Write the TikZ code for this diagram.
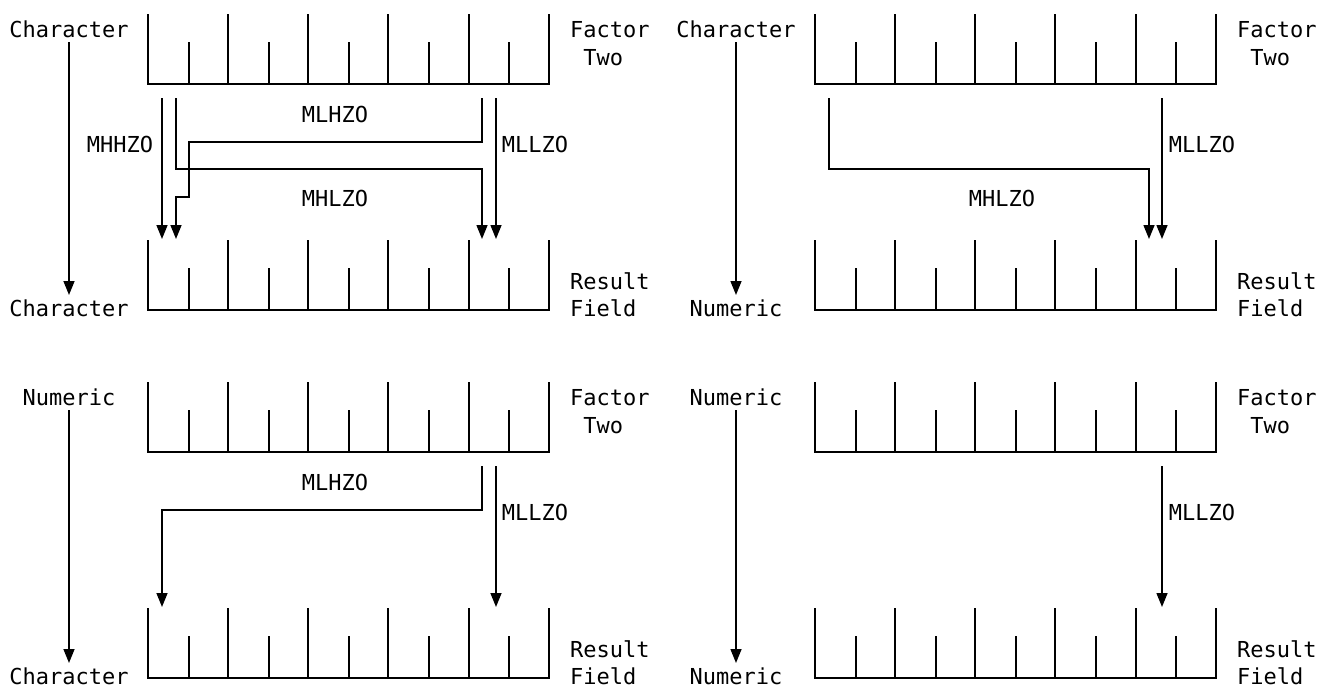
\documentclass[tikz,border=0pt]{standalone}
\usepackage{fontspec}
\setmonofont{DejaVu Sans Mono}
\usetikzlibrary{arrows.meta}
\begin{document}
\begin{tikzpicture}[x=1pt,y=-1pt,
  lbl/.style={font=\ttfamily\fontsize{22}{26}\selectfont, inner sep=0pt, anchor=base},
  lblw/.style={lbl, anchor=base west},
  wire/.style={line width=1.5pt, line join=miter, line cap=butt},
  flow/.style={wire, -{Triangle[length=14pt,width=11pt]}},
  pics/ruler/.style={code={
    \draw[wire] (0,0) -- (0,70) -- (401,70) -- (401,0);
    \foreach \t in {80,160,240,321} \draw[wire] (\t,0) -- (\t,70);
    \foreach \t in {41,121,201,281,361} \draw[wire] (\t,28) -- (\t,70);
  }}]
\useasboundingbox (0,0) rectangle (1318,688);

% ---------- Character -> Character ----------
\begin{scope}
  \pic at (148,14) {ruler};
  \pic at (148,240) {ruler};
  \node[lbl]  (tl-src) at (69,37)  {Character};
  \node[lbl]  (tl-dst) at (69,316) {Character};
  \node[lblw] (tl-f1) at (570,37)  {Factor};
  \node[lblw] (tl-f2) at (583.2,65) {Two};
  \node[lblw] (tl-r1) at (570,289) {Result};
  \node[lblw] (tl-r2) at (570,316) {Field};
  \coordinate (tl-vs) at (69,42);
  \coordinate (tl-ve) at (69,295);
  \draw[flow] (tl-vs) -- (tl-ve);
  \coordinate (tl-a0) at (162,98);  \coordinate (tl-a1) at (162,239);
  \coordinate (tl-b0) at (482,98);  \coordinate (tl-b1) at (176,239);
  \coordinate (tl-c0) at (176,98);  \coordinate (tl-c1) at (482,239);
  \coordinate (tl-d0) at (496,98);  \coordinate (tl-d1) at (496,239);
  \draw[flow] (tl-a0) -- (tl-a1);
  \draw[flow] (tl-b0) |- (189,142) |- (176,197) -- (tl-b1);
  \draw[flow] (tl-c0) |- (482,169) -- (tl-c1);
  \draw[flow] (tl-d0) -- (tl-d1);
  \node[lbl] (tl-mhhzo) at (120,152) {MHHZO};
  \node[lbl] (tl-mlhzo) at (335,122) {MLHZO};
  \node[lbl] (tl-mhlzo) at (335,206) {MHLZO};
  \node[lbl] (tl-mllzo) at (535,152) {MLLZO};
\end{scope}

% ---------- Character -> Numeric ----------
\begin{scope}[shift={(667,0)}]
  \pic at (148,14) {ruler};
  \pic at (148,240) {ruler};
  \node[lbl]  (tr-src) at (69,37)  {Character};
  \node[lbl]  (tr-dst) at (69,316) {Numeric};
  \node[lblw] (tr-f1) at (570,37)  {Factor};
  \node[lblw] (tr-f2) at (583.2,65) {Two};
  \node[lblw] (tr-r1) at (570,289) {Result};
  \node[lblw] (tr-r2) at (570,316) {Field};
  \coordinate (tr-vs) at (69,42);
  \coordinate (tr-ve) at (69,295);
  \draw[flow] (tr-vs) -- (tr-ve);
  \coordinate (tr-c0) at (162,98);  \coordinate (tr-c1) at (482,239);
  \coordinate (tr-d0) at (495,98);  \coordinate (tr-d1) at (495,239);
  \draw[flow] (tr-c0) |- (482,169) -- (tr-c1);
  \draw[flow] (tr-d0) -- (tr-d1);
  \node[lbl] (tr-mhlzo) at (335,206) {MHLZO};
  \node[lbl] (tr-mllzo) at (535,152) {MLLZO};
\end{scope}

% ---------- Numeric -> Character ----------
\begin{scope}[shift={(0,368)}]
  \pic at (148,14) {ruler};
  \pic at (148,240) {ruler};
  \node[lbl]  (bl-src) at (69,37)  {Numeric};
  \node[lbl]  (bl-dst) at (69,316) {Character};
  \node[lblw] (bl-f1) at (570,37)  {Factor};
  \node[lblw] (bl-f2) at (583.2,65) {Two};
  \node[lblw] (bl-r1) at (570,289) {Result};
  \node[lblw] (bl-r2) at (570,316) {Field};
  \coordinate (bl-vs) at (69,42);
  \coordinate (bl-ve) at (69,295);
  \draw[flow] (bl-vs) -- (bl-ve);
  \coordinate (bl-b0) at (482,98);  \coordinate (bl-b1) at (162,239);
  \coordinate (bl-d0) at (496,98);  \coordinate (bl-d1) at (496,239);
  \draw[flow] (bl-b0) |- (162,142) -- (bl-b1);
  \draw[flow] (bl-d0) -- (bl-d1);
  \node[lbl] (bl-mlhzo) at (335,122) {MLHZO};
  \node[lbl] (bl-mllzo) at (535,152) {MLLZO};
\end{scope}

% ---------- Numeric -> Numeric ----------
\begin{scope}[shift={(667,368)}]
  \pic at (148,14) {ruler};
  \pic at (148,240) {ruler};
  \node[lbl]  (br-src) at (69,37)  {Numeric};
  \node[lbl]  (br-dst) at (69,316) {Numeric};
  \node[lblw] (br-f1) at (570,37)  {Factor};
  \node[lblw] (br-f2) at (583.2,65) {Two};
  \node[lblw] (br-r1) at (570,289) {Result};
  \node[lblw] (br-r2) at (570,316) {Field};
  \coordinate (br-vs) at (69,42);
  \coordinate (br-ve) at (69,295);
  \draw[flow] (br-vs) -- (br-ve);
  \coordinate (br-d0) at (495,98);  \coordinate (br-d1) at (495,239);
  \draw[flow] (br-d0) -- (br-d1);
  \node[lbl] (br-mllzo) at (535,152) {MLLZO};
\end{scope}
\end{tikzpicture}
\end{document}
